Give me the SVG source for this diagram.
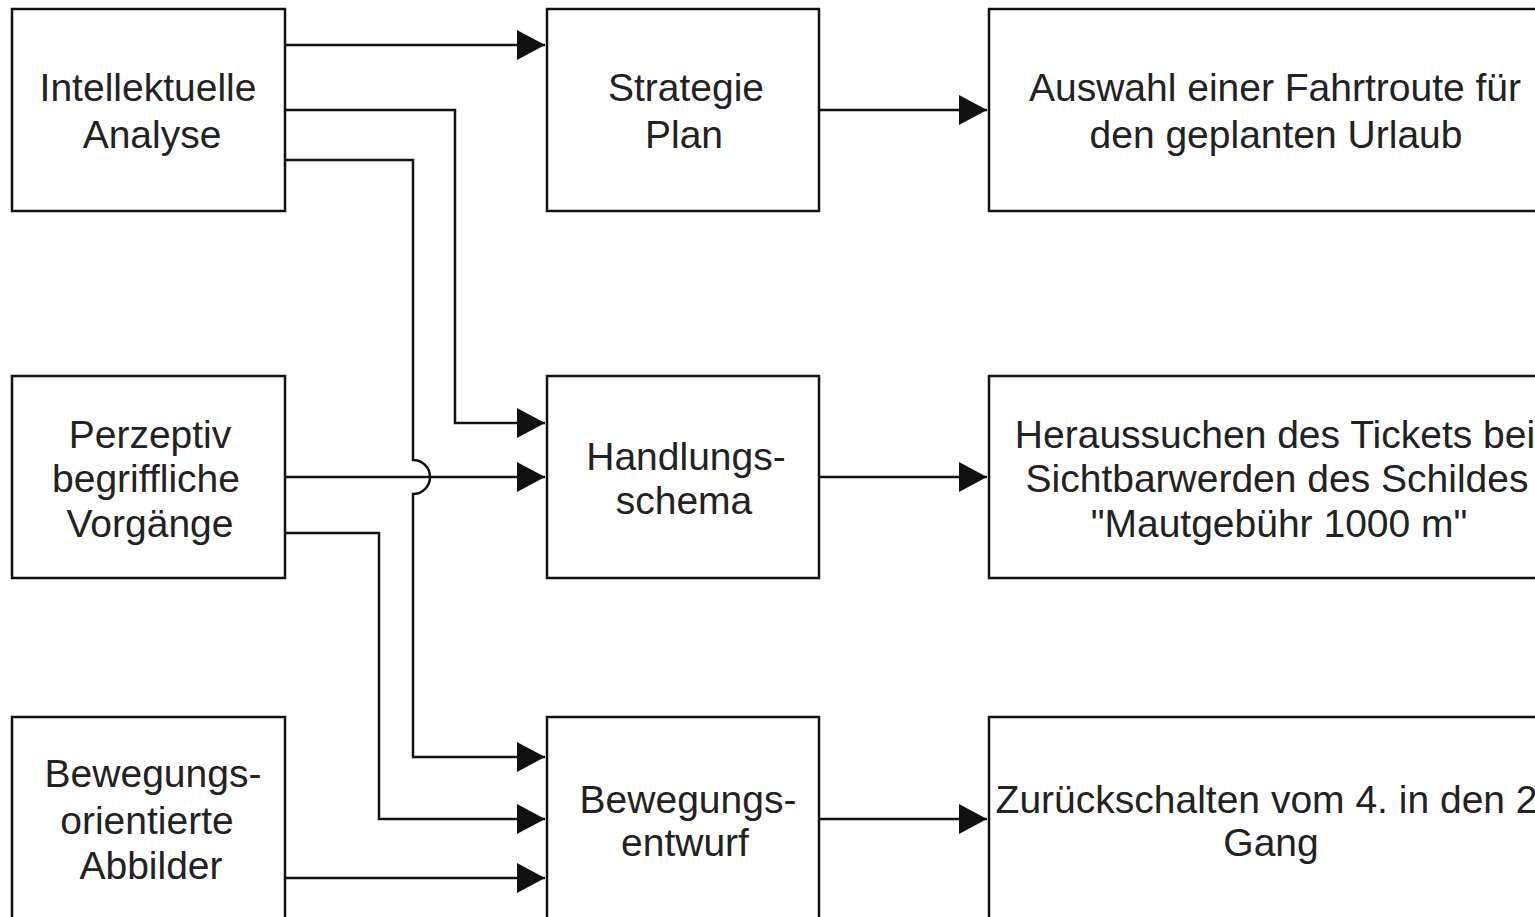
<svg xmlns="http://www.w3.org/2000/svg" width="1535" height="917" viewBox="0 0 1535 917">
<style>
.box{fill:#ffffff;stroke:#111;stroke-width:2.5}
.lbl{font-family:"Liberation Sans",Arial,sans-serif;font-size:39px;fill:#222;text-anchor:middle}
.con{fill:none;stroke:#111;stroke-width:2.5}
</style>
<defs>
<marker id="arr" markerUnits="userSpaceOnUse" markerWidth="30" markerHeight="32" refX="28" refY="16" orient="auto">
<path d="M0,1 L28,16 L0,31 Z" fill="#111"/>
</marker>
</defs>
<rect width="1535" height="917" fill="#ffffff"/>
<g id="connectors">
<path class="con" d="M285,45 H545" marker-end="url(#arr)"/>
<path class="con" d="M285,110 H455 V423 H545" marker-end="url(#arr)"/>
<path class="con" d="M285,160 H413 V460 A17,17 0 0 1 413,494 V757 H545" marker-end="url(#arr)"/>
<path class="con" d="M285,477 H545" marker-end="url(#arr)"/>
<path class="con" d="M285,533 H379 V819 H545" marker-end="url(#arr)"/>
<path class="con" d="M285,878 H545" marker-end="url(#arr)"/>
<path class="con" d="M819,110 H987" marker-end="url(#arr)"/>
<path class="con" d="M819,477 H987" marker-end="url(#arr)"/>
<path class="con" d="M819,819 H987" marker-end="url(#arr)"/>
</g>
<g id="intellektuelle">
<rect class="box" x="12" y="9" width="273" height="202"/>
<text class="lbl" x="148" y="101">Intellektuelle</text>
<text class="lbl" x="152" y="148">Analyse</text>
</g>
<g id="perzeptiv">
<rect class="box" x="12" y="376" width="273" height="202"/>
<text class="lbl" x="150" y="448">Perzeptiv</text>
<text class="lbl" x="146" y="492">begriffliche</text>
<text class="lbl" x="150" y="537">Vorgänge</text>
</g>
<g id="bewegungsorientiert">
<rect class="box" x="12" y="717" width="273" height="220"/>
<text class="lbl" x="153" y="787">Bewegungs-</text>
<text class="lbl" x="147" y="834">orientierte</text>
<text class="lbl" x="151" y="879">Abbilder</text>
</g>
<g id="strategie">
<rect class="box" x="547" y="9" width="272" height="202"/>
<text class="lbl" x="686" y="101">Strategie</text>
<text class="lbl" x="684" y="148">Plan</text>
</g>
<g id="handlungsschema">
<rect class="box" x="547" y="376" width="272" height="202"/>
<text class="lbl" x="686" y="470">Handlungs-</text>
<text class="lbl" x="684" y="514">schema</text>
</g>
<g id="bewegungsentwurf">
<rect class="box" x="547" y="717" width="272" height="220"/>
<text class="lbl" x="688" y="813">Bewegungs-</text>
<text class="lbl" x="685" y="856">entwurf</text>
</g>
<g id="auswahl">
<rect class="box" x="989" y="9" width="580" height="202"/>
<text class="lbl" x="1275" y="101">Auswahl einer Fahrtroute für</text>
<text class="lbl" x="1276" y="148">den geplanten Urlaub</text>
</g>
<g id="heraussuchen">
<rect class="box" x="989" y="376" width="580" height="202"/>
<text class="lbl" x="1275" y="448">Heraussuchen des Tickets bei</text>
<text class="lbl" x="1277" y="492">Sichtbarwerden des Schildes</text>
<text class="lbl" x="1279" y="537">"Mautgebühr 1000 m"</text>
</g>
<g id="zurueckschalten">
<rect class="box" x="989" y="717" width="580" height="220"/>
<text class="lbl" x="1272" y="813">Zurückschalten vom 4. in den 2.</text>
<text class="lbl" x="1271" y="856">Gang</text>
</g>
</svg>
